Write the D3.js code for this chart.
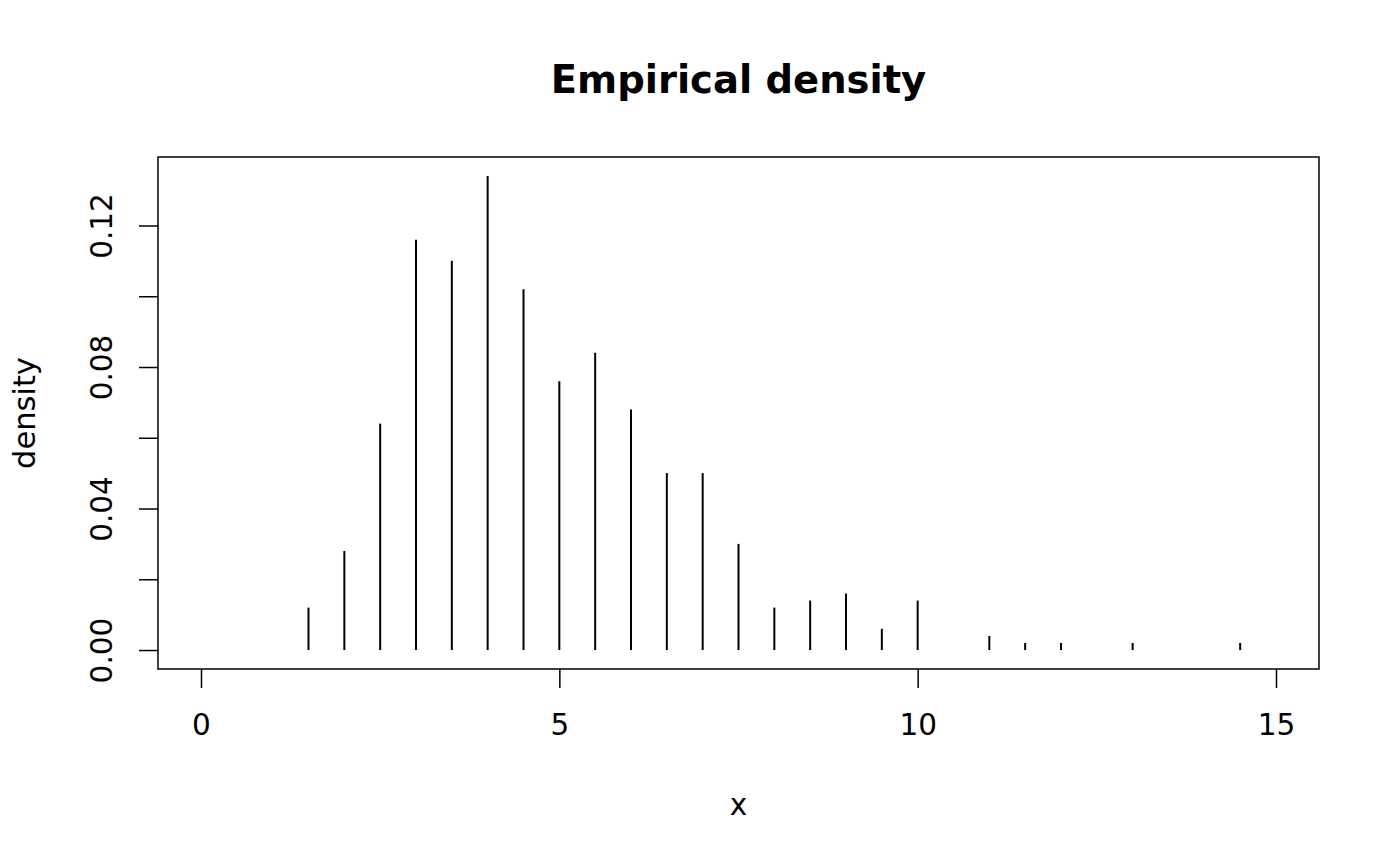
<!DOCTYPE html>
<html>
<head>
<meta charset="utf-8">
<script src="https://cdn.jsdelivr.net/npm/d3@7"></script>
<style>
  html, body { margin: 0; padding: 0; background: #fff; }
  svg { display: block; }
  text { font-family: "DejaVu Sans", sans-serif; fill: #000; }
</style>
</head>
<body>
<script>
// Data
const xValues = [1.5, 2.0, 2.5, 3.0, 3.5, 4.0, 4.5, 5.0, 5.5, 6.0, 6.5, 7.0, 7.5, 8.0, 8.5, 9.0, 9.5, 10.0, 11.0, 11.5, 12.0, 13.0, 14.5];
const densityValues = [0.012, 0.028, 0.064, 0.116, 0.110, 0.134, 0.102, 0.076, 0.084, 0.068, 0.050, 0.050, 0.030, 0.012, 0.014, 0.016, 0.006, 0.014, 0.004, 0.002, 0.002, 0.002, 0.002];
const xTicks = [0, 5, 10, 15];
const yTicks = [0, 0.02, 0.04, 0.06, 0.08, 0.10, 0.12];
const yTickLabels = ["0.00", "", "0.04", "", "0.08", "", "0.12"];
const titleText = "Empirical density";
const xLabel = "x";
const yLabel = "density";

const W = 1400, H = 866;
const box = { left: 158, right: 1319, top: 157, bottom: 669 };

const svg = d3.select("body").append("svg").attr("width", W).attr("height", H);

// R-style 4% extended ranges
const xr = [0, 15], yr = [0, d3.max(densityValues)];
const xp = (xr[1] - xr[0]) * 0.04, yp = (yr[1] - yr[0]) * 0.04;
const x = d3.scaleLinear().domain([xr[0] - xp, xr[1] + xp]).range([box.left, box.right]);
const y = d3.scaleLinear().domain([yr[0] - yp, yr[1] + yp]).range([box.bottom, box.top]);

// spikes
svg.append("g").selectAll("line").data(xValues).join("line")
  .attr("x1", d => x(d)).attr("x2", d => x(d))
  .attr("y1", y(0)).attr("y2", (d, i) => y(densityValues[i]))
  .attr("stroke", "#000").attr("stroke-width", 2);

// box
svg.append("rect")
  .attr("x", box.left).attr("y", box.top)
  .attr("width", box.right - box.left).attr("height", box.bottom - box.top)
  .attr("fill", "none").attr("stroke", "#000").attr("stroke-width", 1.5);

// x axis
const xAxis = d3.axisBottom(x).tickValues(xTicks).tickSize(19).tickPadding(26).tickFormat(d3.format("d"));
const gx = svg.append("g").attr("transform", `translate(0,${box.bottom})`).call(xAxis);
gx.select(".domain").remove();
gx.selectAll(".tick line").attr("stroke", "#000").attr("stroke-width", 1.5);
gx.selectAll(".tick text").attr("font-size", 29.5).attr("font-family", "DejaVu Sans");

// y axis
const yAxis = d3.axisLeft(y).tickValues(yTicks).tickSize(19).tickPadding(0)
  .tickFormat((d, i) => yTickLabels[i]);
const gy = svg.append("g").attr("transform", `translate(${box.left},0)`).call(yAxis);
gy.select(".domain").remove();
gy.selectAll(".tick line").attr("stroke", "#000").attr("stroke-width", 1.5);
gy.selectAll(".tick text")
  .attr("font-size", 29.5).attr("font-family", "DejaVu Sans")
  .attr("x", null).attr("dy", null)
  .attr("text-anchor", "middle")
  .attr("transform", "translate(-46,0) rotate(-90)");

// title
svg.append("text").attr("x", (box.left + box.right) / 2).attr("y", 93)
  .attr("text-anchor", "middle").attr("font-size", 38.5).attr("font-weight", "bold")
  .text(titleText);

// axis labels
svg.append("text").attr("x", (box.left + box.right) / 2).attr("y", 815)
  .attr("text-anchor", "middle").attr("font-size", 29.5).text(xLabel);

svg.append("text")
  .attr("transform", `translate(35,${(box.top + box.bottom) / 2}) rotate(-90)`)
  .attr("text-anchor", "middle").attr("font-size", 30.5).text(yLabel);
</script>
</body>
</html>
